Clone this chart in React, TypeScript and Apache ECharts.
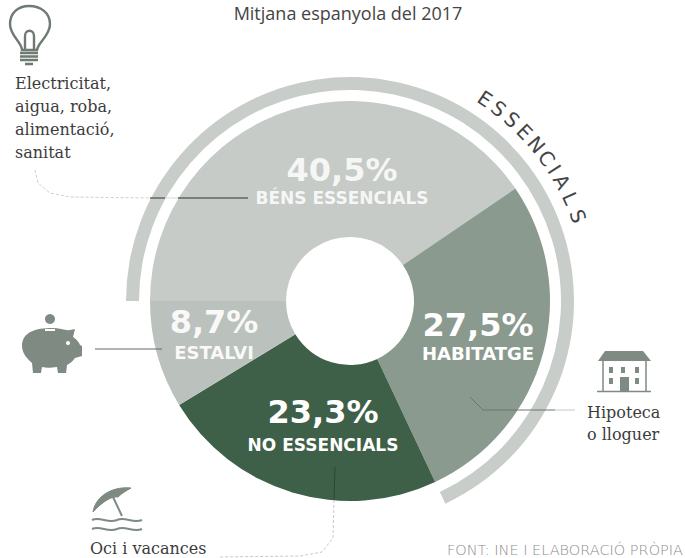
import React, { useEffect, useRef } from "react";
import * as echarts from "echarts";

const categories = ["BÉNS ESSENCIALS", "HABITATGE", "NO ESSENCIALS", "ESTALVI"];
const shares = [40.5, 27.5, 23.3, 8.7];
const essentialGroup = ["BÉNS ESSENCIALS", "HABITATGE"];
const titleText = "Mitjana espanyola del 2017";
const arcWord = "ESSENCIALS";
const sourceText = "FONT: INE I ELABORACIÓ PRÒPIA";
const noteBens = ["Electricitat,", "aigua, roba,", "alimentació,", "sanitat"];
const noteHome = ["Hipoteca", "o lloguer"];
const noteLeisure = ["Oci i vacances"];

const sliceColors = ["#c6cbc7", "#8b9a8e", "#3f6048", "#bbc1bc"];
const labelPlace = [
  { x: 342, pctY: 170, nameY: 198, op: 0.85 },
  { x: 478, pctY: 325, nameY: 353, op: 1 },
  { x: 323, pctY: 412, nameY: 445, op: 1 },
  { x: 214, pctY: 322, nameY: 352, op: 0.92 },
];
const arcAngles = [33.7, 37.7, 41.8, 45.9, 50, 54, 57.2, 60.6, 65, 69.6];

const BULB =
  "M22,50 C22,42 10,36 10,24 C10,13 18,6 29,6 C41,6 50,13 50,24 C50,36 38,42 37,50 Z M25,50 L25,36 C25,29 34,29 34,36 L34,50 M20,53 L38,53 M20,56.5 L38,56.5 M20,60 L38,60 M25,64 L33,64";
const PIG =
  "M22,346 C22,332 36,328 52,328 C60,328 66,331 70,330 L75,329 L73,337 C77,340 79,342 80,345 L82,346 L82,356 L75,358 C72,362 69,364 67,365 L66,373 L58,373 L57,367 C50,368 46,368 42,367 L41,373 L33,373 L32,363 C26,358 22,352 22,346 Z";
const ROOF = "M598,361 L605,351 L643,351 L651,361 Z";
const WALLS = "M603,361 L603,391 M646,361 L646,391 M597,391.5 L651,391.5";
const CANOPY =
  "M93,512 C95,498 110,486 131,488 C126,491 122,493 118,497 C112,496 103,501 93,512 Z";
const BEACH =
  "M113,497 L122,516 M92,520 C100,516 108,524 117,520 C125,516 133,524 142,520 M92,529 C100,525 108,533 117,529 C125,525 133,533 142,529";

echarts.graphic.registerShape("bulbIcon", echarts.graphic.extendPath(BULB, {}));
echarts.graphic.registerShape("pigIcon", echarts.graphic.extendPath(PIG, {}));
echarts.graphic.registerShape("roofIcon", echarts.graphic.extendPath(ROOF, {}));
echarts.graphic.registerShape("wallIcon", echarts.graphic.extendPath(WALLS, {}));
echarts.graphic.registerShape("canopyIcon", echarts.graphic.extendPath(CANOPY, {}));
echarts.graphic.registerShape("beachIcon", echarts.graphic.extendPath(BEACH, {}));

const CX = 350;
const CY = 301;
const ICON = "#7f8b82";
const SERIF = "'DejaVu Serif', serif";
const SANS = "'DejaVu Sans', sans-serif";

const txt = (x: number, y: number, text: string, fontSize: number, fontFamily: string, fill: string, extra: any = {}) => ({
  type: "text",
  x,
  y,
  z: 10,
  silent: true,
  style: { text, fontSize, fontFamily, fill, align: "left", verticalAlign: "middle", ...extra },
});
const line = (pts: number[][], stroke: string, lineWidth = 1, lineDash?: number[]) => ({
  type: "polyline",
  z: 5,
  silent: true,
  shape: { points: pts },
  style: { stroke, lineWidth, fill: "none", lineDash },
});
const icon = (type: string, style: any) => ({ type, x: 0, y: 0, z: 6, silent: true, style });
const box = (x: number, y: number, width: number, height: number, fill = ICON) => ({
  type: "rect",
  z: 7,
  silent: true,
  shape: { x, y, width, height },
  style: { fill },
});

export default function App() {
  const ref = useRef<HTMLDivElement>(null);
  useEffect(() => {
    const chart = echarts.init(ref.current!, undefined, { renderer: "svg" });
    const essentialSum = shares
      .filter((_, i) => essentialGroup.includes(categories[i]))
      .reduce((a, b) => a + b, 0);

    const graphics: any[] = [
      txt(348, 4, titleText, 18, "'Open Sans', sans-serif", "#444", { align: "center", verticalAlign: "top" }),
      txt(683, 550, sourceText, 14.5, SANS, "#8c8c8c", { align: "right", fontWeight: 300 }),
      ...noteBens.map((t, i) => txt(15, 83 + i * 23, t, 16, SERIF, "#3c3c3c")),
      ...noteHome.map((t, i) => txt(587, 412 + i * 22, t, 16, SERIF, "#3c3c3c")),
      ...noteLeisure.map((t) => txt(90, 548, t, 16, SERIF, "#3c3c3c")),
      ...Array.from(arcWord).map((ch, i) => {
        const a = (arcAngles[i] * Math.PI) / 180;
        return {
          type: "text",
          x: CX + 243 * Math.sin(a),
          y: CY - 243 * Math.cos(a),
          rotation: -a,
          z: 10,
          silent: true,
          style: { text: ch, fontSize: 20, fontFamily: SANS, fill: "#444", align: "center", verticalAlign: "middle" },
        };
      }),
      ...categories.flatMap((name, i) => {
        const p = labelPlace[i];
        const pct = `${shares[i].toFixed(1).replace(".", ",")}%`;
        const nameSize = i === 1 || i === 3 ? 18 : 17;
        return [
          txt(p.x, p.pctY, pct, 32, SANS, "#fff", { align: "center", fontWeight: "bold", opacity: p.op }),
          txt(p.x, p.nameY, name, nameSize, SANS, "#fff", { align: "center", fontWeight: "bold", opacity: p.op }),
        ];
      }),
      line([[35, 170], [38, 183], [50, 193], [70, 197], [150, 198]], "#cfcfcf", 1, [3, 2]),
      line([[150, 198], [165, 198]], "#666", 1.5),
      line([[165, 198], [178, 198]], "#d5d5d5", 1),
      line([[178, 198], [248, 198]], "#5e6a61", 1.5),
      line([[95, 349], [162, 349]], "#666", 1),
      line([[470, 397], [483, 410], [555, 410]], "#6b776e", 1),
      line([[555, 410], [575, 410]], "#c8c8c8", 1),
      line([[335, 467], [334, 500]], "#2c4733", 1),
      line([[334, 500], [333, 538], [322, 552], [300, 556], [218, 557]], "#c9c9c9", 1, [3, 2]),
      icon("bulbIcon", { fill: "none", stroke: "#6f7a72", lineWidth: 2.4 }),
      icon("pigIcon", { fill: ICON }),
      { type: "circle", z: 7, silent: true, shape: { cx: 50, cy: 319, r: 5 }, style: { fill: ICON } },
      { type: "circle", z: 7, silent: true, shape: { cx: 68, cy: 343, r: 2 }, style: { fill: "#fff" } },
      box(45, 329, 10, 2, "#fff"),
      icon("roofIcon", { fill: ICON }),
      icon("wallIcon", { fill: "none", stroke: ICON, lineWidth: 1.5 }),
      ...[
        [609, 367], [621, 367], [635, 367], [609, 378], [635, 378],
      ].map(([x, y]) => box(x, y, 4, 6)),
      box(620, 377, 9, 14),
      icon("canopyIcon", { fill: ICON, stroke: ICON, lineWidth: 1 }),
      icon("beachIcon", { fill: "none", stroke: ICON, lineWidth: 2 }),
    ];

    chart.setOption({
      animation: false,
      backgroundColor: "#fff",
      graphic: graphics,
      series: [
        {
          type: "pie",
          center: [CX, CY],
          radius: [64, 200],
          startAngle: 180,
          clockwise: true,
          silent: true,
          label: { show: false },
          labelLine: { show: false },
          itemStyle: { borderWidth: 0 },
          data: categories.map((name, i) => ({
            name,
            value: shares[i],
            itemStyle: { color: sliceColors[i] },
          })),
        },
        {
          type: "pie",
          center: [CX, CY],
          radius: [211, 224],
          startAngle: 180,
          clockwise: true,
          silent: true,
          label: { show: false },
          labelLine: { show: false },
          data: [
            { name: "ESSENCIALS", value: essentialSum, itemStyle: { color: "#c9cdca" } },
            { name: "", value: 100 - essentialSum, itemStyle: { color: "transparent" } },
          ],
        },
      ],
    });
    return () => chart.dispose();
  }, []);
  return <div ref={ref} style={{ position: "absolute", left: 0, top: 0, width: 685, height: 558 }} />;
}
